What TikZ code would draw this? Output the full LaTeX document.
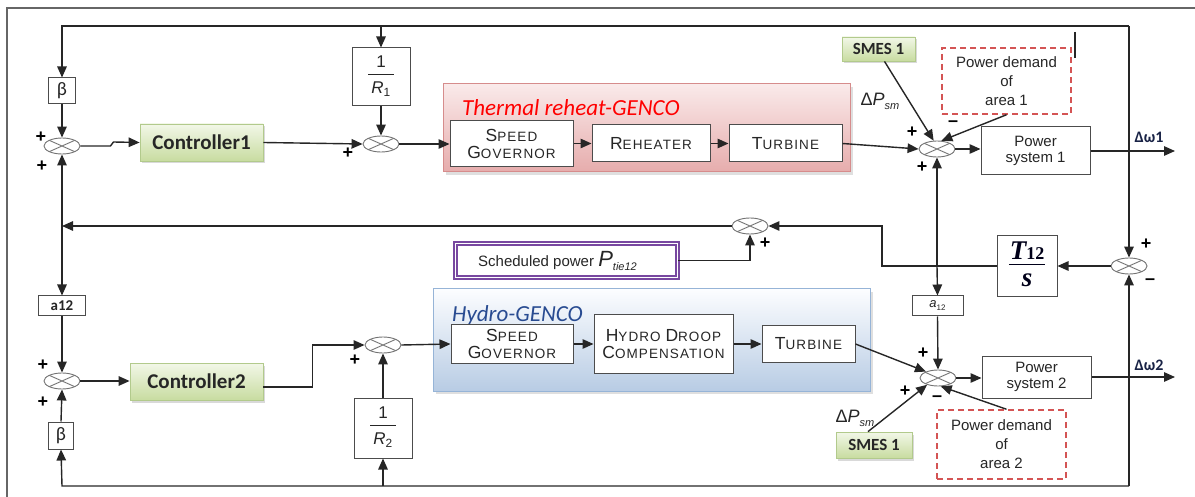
\documentclass[tikz,border=0pt]{standalone}
\usepackage{fontspec}
\setmainfont{Liberation Sans}
\newfontfamily\cali{Carlito}
\newfontfamily\scfont[LetterSpace=8]{Liberation Sans}
\newfontfamily\tieserif{Liberation Serif}
\usetikzlibrary{arrows.meta,shapes.geometric,shadows}

\definecolor{ctrltop}{RGB}{242,247,232}
\definecolor{ctrlbot}{RGB}{200,220,160}
\definecolor{ctrledge}{RGB}{178,202,140}
\definecolor{thtop}{RGB}{250,234,234}
\definecolor{thbot}{RGB}{230,172,172}
\definecolor{thedge}{RGB}{214,140,140}
\definecolor{hytop}{RGB}{252,253,255}
\definecolor{hybot}{RGB}{184,204,228}
\definecolor{hyedge}{RGB}{150,180,215}
\definecolor{demcol}{RGB}{212,84,84}
\definecolor{schedcol}{RGB}{120,72,160}
\definecolor{hytitle}{RGB}{40,75,145}
\definecolor{wlabel}{RGB}{25,35,70}

% large first letter followed by small capitals
\newcommand{\fsc}[2]{{\fontsize{17.5}{17}\selectfont #1}#2}
% droop gain 1/R_n
\newcommand{\recip}[1]{{\fontsize{17}{17}\selectfont\setlength{\arrayrulewidth}{1pt}%
  \begin{tabular}{@{\hspace{3pt}}c@{\hspace{3pt}}}1\\[2pt]\hline\rule{0pt}{18pt}\textit{R}\textsubscript{#1}\end{tabular}}}

\tikzset{
  wire/.style={line width=1.4pt, draw=black!85},
  arr/.style={wire, -{Triangle[length=11pt,width=9.5pt]}},
  blk/.style={draw=black!70, line width=1pt, fill=white, inner sep=0pt, align=center, text=black!85},
  scblk/.style={blk, font=\scfont\fontsize{13.5}{17}\selectfont},
  txtblk/.style={blk, font=\fontsize{15}{16}\selectfont},
  sumj/.style={ellipse, draw=black!55, line width=0.9pt, fill=white,
    minimum width=36pt, minimum height=16pt, inner sep=0pt,
    path picture={\draw[black!55, line width=0.9pt]
      (path picture bounding box.north west) -- (path picture bounding box.south east)
      (path picture bounding box.north east) -- (path picture bounding box.south west);}},
  ctrl/.style={draw=ctrledge, line width=0.8pt, top color=ctrltop, bottom color=ctrlbot,
    drop shadow={opacity=0.3, shadow xshift=2pt, shadow yshift=-2.5pt},
    inner sep=0pt, text=black!85},
  grp/.style={line width=1pt, inner sep=0pt,
    drop shadow={opacity=0.25, shadow xshift=2.5pt, shadow yshift=-3pt}},
  grptitle/.style={anchor=base west, inner sep=0pt, font=\cali\itshape\fontsize{23}{23}\selectfont},
  demand/.style={draw=demcol, line width=1.5pt, dash pattern=on 6pt off 4pt, fill=white,
    align=center, inner sep=0pt, text=black!85, font=\fontsize{15}{19}\selectfont},
  sgn/.style={inner sep=0pt, font=\bfseries\fontsize{18}{18}\selectfont},
  psm/.style={inner sep=0pt, text=black!85},
  wout/.style={inner sep=0pt, text=wlabel, font=\cali\bfseries\fontsize{16}{16}\selectfont},
}

\begin{document}
\begin{tikzpicture}[x=1pt,y=-1pt]
\useasboundingbox (0,0) rectangle (1195,497);

% outer frame
\draw[black!60, line width=1.2pt] (7,497) -- (7,8) -- (1195,8);
\draw[black!85, line width=2pt] (1075,32) -- (1075,58);

% ---------------- area 1 ----------------
\node[blk, minimum width=27pt, minimum height=26pt, font=\cali\fontsize{19}{19}\selectfont] (beta1) at (62,91) {β};
\node[sumj] (s1) at (62,146) {};
\node[ctrl, minimum width=123pt, minimum height=37pt, font=\cali\bfseries\fontsize{21}{24}\selectfont] (c1) at (201.5,142.5) {Controller1};
\node[blk, minimum width=58pt, minimum height=58pt] (r1) at (381,77) {\recip{1}};
\node[sumj] (s2) at (381,144) {};

\node[grp, draw=thedge, top color=thtop, bottom color=thbot, minimum width=407pt, minimum height=88pt] (th) at (646.5,128) {};
\node[grptitle, text=red] (tht) at (462,116) {Thermal reheat-GENCO};
\node[scblk, minimum width=123pt, minimum height=46pt] (sg1) at (511.5,144) {\fsc{S}{PEED}\\\fsc{G}{OVERNOR}};
\node[scblk, minimum width=118pt, minimum height=37pt] (rh) at (651,143.5) {\fsc{R}{EHEATER}};
\node[scblk, minimum width=113pt, minimum height=37pt] (tb1) at (785.5,143.5) {\fsc{T}{URBINE}};

\node[sumj] (s3) at (937,149) {};
\node[ctrl, minimum width=73pt, minimum height=24pt, font=\cali\bfseries\fontsize{17}{17}\selectfont] (sm1) at (878.5,49) {SMES 1};
\node[demand, minimum width=129pt, minimum height=66pt] (pd1) at (1006.5,81) {Power demand\\of\\area 1};
\node[txtblk, minimum width=109pt, minimum height=48pt] (ps1) at (1035.5,151) {Power\\system 1};

% ---------------- tie line ----------------
\node[sumj] (s4) at (750,226) {};
\node[blk, draw=schedcol, line width=1.3pt, double=white, double distance=1.5pt,
      minimum width=222pt, minimum height=34pt, font=\fontsize{15}{18}\selectfont] (sp) at (566.5,260.5)
  {Scheduled power {\fontsize{22}{22}\selectfont\itshape P}\raisebox{-4pt}{\fontsize{11}{11}\selectfont\itshape tie12}\hspace{18pt}};
\node[blk, minimum width=60pt, minimum height=61pt, text=black!90!blue] (t12) at (1027,266)
  {{\tieserif\bfseries\setlength{\arrayrulewidth}{1pt}%
    \begin{tabular}{@{\hspace{1pt}}c@{\hspace{1pt}}}{\fontsize{27}{27}\selectfont\itshape T}{\fontsize{18}{18}\selectfont 12}\\[1pt]\hline
    \rule{0pt}{21pt}{\fontsize{27}{27}\selectfont\itshape s}\end{tabular}}};
\node[sumj] (s5) at (1129,266) {};
\node[blk, minimum width=51pt, minimum height=20pt] (a12r) at (937.5,306)
  {{\fontsize{13}{13}\selectfont\itshape a}\raisebox{-3pt}{\fontsize{8}{8}\selectfont 12}};
\node[blk, minimum width=47pt, minimum height=20pt, font=\cali\bfseries\fontsize{15}{15}\selectfont] (a12l) at (62,306) {a12};

% ---------------- area 2 ----------------
\node[sumj] (s6) at (62,381) {};
\node[ctrl, minimum width=133pt, minimum height=37pt, font=\cali\bfseries\fontsize{21}{24}\selectfont] (c2) at (196.5,381.5) {Controller2};
\node[sumj] (s8) at (383,345) {};
\node[blk, minimum width=58pt, minimum height=60pt] (r2) at (383,428) {\recip{2}};
\node[blk, minimum width=25pt, minimum height=27pt, font=\cali\fontsize{19}{19}\selectfont] (beta2) at (61,435.5) {β};

\node[grp, draw=hyedge, top color=hytop, bottom color=hybot, minimum width=437pt, minimum height=102pt] (hy) at (651.5,340) {};
\node[grptitle, text=hytitle] (hyt) at (452,321) {Hydro-GENCO};
\node[scblk, minimum width=122pt, minimum height=38pt] (sg2) at (512,344) {\fsc{S}{PEED}\\\fsc{G}{OVERNOR}};
\node[scblk, minimum width=139pt, minimum height=58pt] (hd) at (663.5,344) {\fsc{H}{YDRO} \fsc{D}{ROOP}\\\fsc{C}{OMPENSATION}};
\node[scblk, minimum width=93pt, minimum height=36pt] (tb2) at (808.5,344) {\fsc{T}{URBINE}};

\node[sumj] (s7) at (938,378) {};
\node[ctrl, minimum width=76pt, minimum height=26pt, font=\cali\bfseries\fontsize{17}{17}\selectfont] (sm2) at (874,445) {SMES 1};
\node[demand, minimum width=129pt, minimum height=69pt] (pd2) at (1001.5,444.5) {Power demand\\of\\area 2};
\node[txtblk, minimum width=109pt, minimum height=42pt] (ps2) at (1036.5,377) {Power\\system 2};

% ---------------- signal routing points ----------------
\coordinate (w1) at (1175,151);
\coordinate (w2) at (1175,377);
\coordinate (topR) at (1129,26);
\coordinate (topL) at (62,26);
\coordinate (topM) at (381,26);
\coordinate (botR) at (1129,486);
\coordinate (botL) at (62,486);
\coordinate (botM) at (383,486);
\coordinate (jA) at (937,266);
\coordinate (jB) at (882,266);
\coordinate (jC) at (882,226);
\coordinate (jL) at (62,226);

% ---------------- connectors, area 1 ----------------
\draw[arr] (s1.east) -- ++(30,0) -- ++(3,-4) -- (c1.west |- c1.center);
\draw[arr] (c1.east) -- (s2.west);
\draw[arr] (s2.east) -- (sg1.west);
\draw[arr] (sg1.east |- rh.west) -- (rh.west);
\draw[arr] (rh.east) -- (tb1.west);
\draw[arr] (tb1.east) -- (s3.west);
\draw[arr] ([xshift=6pt]sm1.south) -- (s3.112);
\draw[arr] (pd1.south) -- (s3.62);
\draw[arr] (s3.east) -- (s3.east -| ps1.west);
\draw[arr] (ps1.east) -- (w1);
\draw[arr] (topR) -- (topL) -- (beta1.north);
\draw[arr] (topM) -- (r1.north);
\draw[arr] (topR) -- (s5.north);
\draw[arr] (beta1.south) -- (s1.north);
\draw[arr] (r1.south) -- (s2.north);

% ---------------- connectors, tie line ----------------
\draw[arr] (s5.west) -- (t12.east);
\draw[arr] (t12.west) -- (jB) -- (jC) -- (s4.east);
\draw[arr] (jA) -- (s3.south);
\draw[arr] (jA) -- (a12r.north);
\draw[arr] (a12r.south) -- (s7.north);
\draw[arr] (sp.east) -| (s4.south);
\draw[arr] (s4.west) -- (jL);
\draw[arr] (jL) -- (s1.south);
\draw[arr] (jL) -- (a12l.north);
\draw[arr] (a12l.south) -- (s6.north);

% ---------------- connectors, area 2 ----------------
\draw[arr] (s6.east) -- (s6.east -| c2.west);
\draw[arr] ([yshift=-5.5pt]c2.east) -- ++(49,0) |- (s8.west);
\draw[arr] (s8.east) -- (sg2.west);
\draw[arr] (sg2.east) -- (hd.west);
\draw[arr] (hd.east) -- (tb2.west);
\draw[arr] (tb2.east) -- (s7.152);
\draw[arr] ([xshift=-6pt]sm2.north) -- (s7.212);
\draw[arr] ([xshift=5pt]pd2.north) -- (s7.-72);
\draw[arr] (s7.east) -- (s7.east -| ps2.west);
\draw[arr] (ps2.east) -- (w2);
\draw[arr] (r2.north) -- (s8.south);
\draw[arr] (beta2.north) -- (s6.south);
\draw[arr] (botR) -- (botL) -- (beta2.south);
\draw[arr] (botM) -- (r2.south);
\draw[arr] (botR) -- (s5.south);

% ---------------- signs and signal labels ----------------
\node[sgn] (p1a) at (41,137) {+};
\node[sgn] (p1b) at (42,166) {+};
\node[sgn] (p2) at (348,153) {+};
\node[sgn] (p3a) at (912,132) {+};
\node[sgn] (p3b) at (922,167) {+};
\node[sgn] (m3) at (953,124) {–};
\node[sgn] (p4) at (765,243) {+};
\node[sgn] (p5) at (1146,244) {+};
\node[sgn] (m5) at (1150,282) {–};
\node[sgn] (p6a) at (43,365) {+};
\node[sgn] (p6b) at (43,402) {+};
\node[sgn] (p8) at (355,360) {+};
\node[sgn] (p7a) at (923,353) {+};
\node[sgn] (p7b) at (905,391) {+};
\node[sgn] (m7) at (937,399) {–};

\node[psm] (dp1) at (880,101) {{\fontsize{18}{18}\selectfont Δ\textit{P}}\raisebox{-4pt}{\fontsize{11}{11}\selectfont\itshape sm}};
\node[psm] (dp2) at (855,418) {{\fontsize{18}{18}\selectfont Δ\textit{P}}\raisebox{-4pt}{\fontsize{11}{11}\selectfont\itshape sm}};
\node[wout] (dw1) at (1149,137) {Δω1};
\node[wout] (dw2) at (1149,365) {Δω2};
\end{tikzpicture}
\end{document}
